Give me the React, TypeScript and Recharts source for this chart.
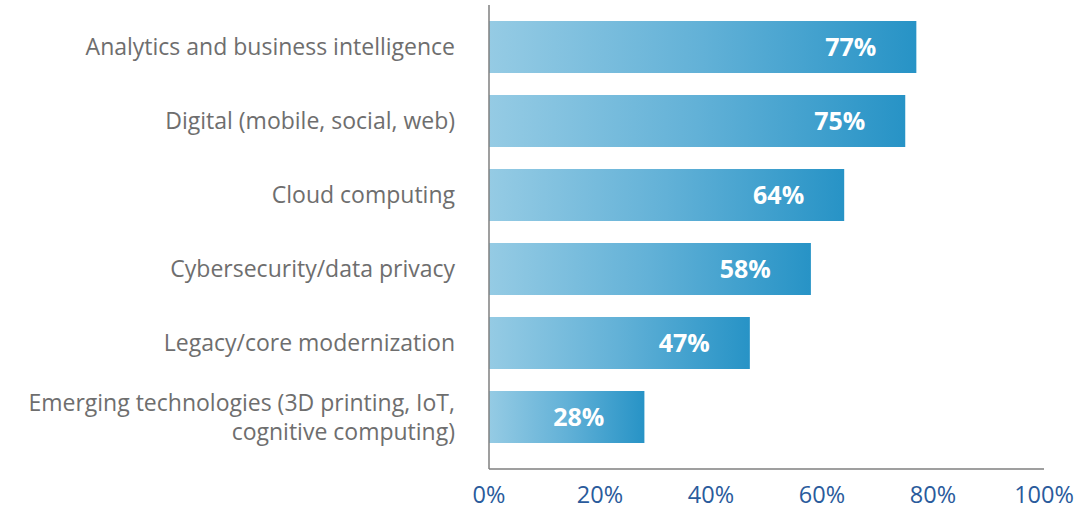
import React from 'react';
import { BarChart, Bar, XAxis, YAxis, LabelList } from 'recharts';

const categories = [
  'Analytics and business intelligence',
  'Digital (mobile, social, web)',
  'Cloud computing',
  'Cybersecurity/data privacy',
  'Legacy/core modernization',
  'Emerging technologies (3D printing, IoT,\ncognitive computing)',
];
const shares = [77, 75, 64, 58, 47, 28];
const xTicks = [0, 20, 40, 60, 80, 100];

const data = categories.map((name, i) => ({ name, value: shares[i] }));

const FONT = '"Open Sans", "Noto Sans", sans-serif';

const CategoryTick = (props: any) => {
  const { x, y, payload } = props;
  const lines = String(payload.value).split('\n');
  const lh = 29;
  const start = y - ((lines.length - 1) * lh) / 2;
  return (
    <g>
      {lines.map((line, i) => (
        <text
          key={i}
          x={x - 26}
          y={start + i * lh}
          dy="0.36em"
          textAnchor="end"
          fontFamily={FONT}
          fontSize={23}
          fill="#6e6e6e"
        >
          {line}
        </text>
      ))}
    </g>
  );
};

const ValueLabel = (props: any) => {
  const { x, y, width, height, value } = props;
  return (
    <text
      x={x + width - 40}
      y={y + height / 2}
      dy="0.36em"
      textAnchor="end"
      fontFamily={FONT}
      fontWeight={700}
      fontSize={25}
      fill="#ffffff"
    >
      {value}%
    </text>
  );
};

export default function App() {
  return (
    <div style={{ position: 'absolute', left: 0, top: 0, background: '#fff' }}>
      <BarChart
        width={1081}
        height={514}
        data={data}
        layout="vertical"
        margin={{ top: 5, right: 37, bottom: 0, left: 0 }}
      >
        <defs>
          <linearGradient id="barFill" x1="0" y1="0" x2="1" y2="0">
            <stop offset="0%" stopColor="#95cbe4" />
            <stop offset="50%" stopColor="#62b1d7" />
            <stop offset="100%" stopColor="#2793c6" />
          </linearGradient>
        </defs>
        <XAxis
          type="number"
          domain={[0, 100]}
          ticks={xTicks}
          tickFormatter={(v: number) => `${v}%`}
          axisLine={{ stroke: '#7f7f7f', strokeWidth: 1.5 }}
          tickLine={false}
          height={45}
          tick={{ fill: '#2a5b9c', fontSize: 23.5, fontFamily: FONT }}
          tickMargin={11}
          interval={0}
        />
        <YAxis
          type="category"
          dataKey="name"
          width={489}
          axisLine={{ stroke: '#7f7f7f', strokeWidth: 1.5 }}
          tickLine={false}
          tick={<CategoryTick />}
          interval={0}
          padding={{ top: 5, bottom: 15 }}
        />
        <Bar dataKey="value" fill="url(#barFill)" barSize={52} isAnimationActive={false}>
          <LabelList dataKey="value" content={<ValueLabel />} />
        </Bar>
      </BarChart>
    </div>
  );
}
